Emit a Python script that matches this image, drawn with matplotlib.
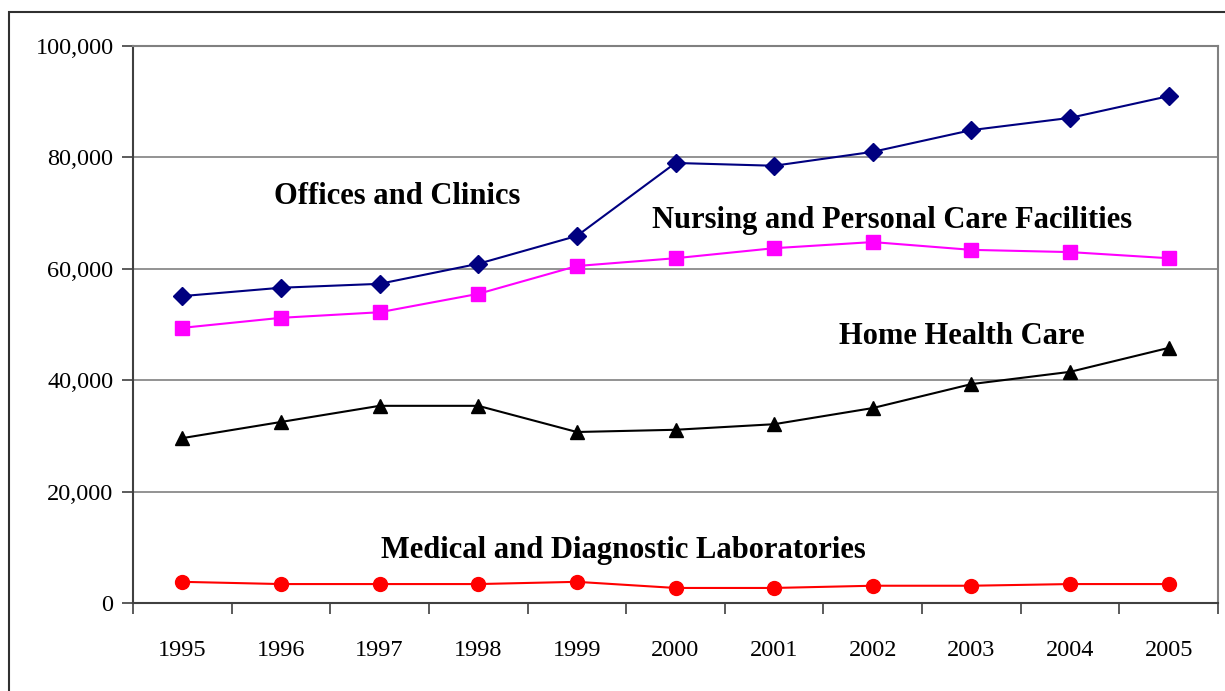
import matplotlib
matplotlib.use("Agg")
import matplotlib.pyplot as plt
from matplotlib.patches import Rectangle
from matplotlib.ticker import FuncFormatter, FixedLocator, NullFormatter

years = ["1995", "1996", "1997", "1998", "1999", "2000", "2001", "2002", "2003", "2004", "2005"]
offices = [55100, 56600, 57300, 60900, 65900, 79000, 78500, 81000, 84900, 87100, 91000]
nursing = [49400, 51200, 52200, 55500, 60500, 61900, 63700, 64800, 63400, 63000, 61900]
home = [29600, 32500, 35400, 35400, 30700, 31100, 32100, 35000, 39300, 41500, 45800]
labs = [3800, 3400, 3400, 3400, 3800, 2700, 2700, 3100, 3100, 3400, 3400]

plt.rcParams['font.family'] = ['Liberation Serif', 'DejaVu Serif']

fig = plt.figure(figsize=(12.25, 6.91), dpi=100)
ax = fig.add_axes([133/1225, 1-603/691, (1218-133)/1225, (603-46)/691])

x = list(range(len(years)))
ax.plot(x, offices, color='#000080', marker='D', markersize=9.5, lw=1.5, zorder=3)
ax.plot(x, nursing, color='#FF00FF', marker='s', markersize=10, lw=1.5, zorder=3)
ax.plot(x, home, color='black', marker='^', markersize=10, lw=1.5, zorder=3)
ax.plot(x, labs, color='#FF0000', marker='o', markersize=10, lw=1.5, zorder=3)

ax.set_xlim(-0.5, len(years) - 0.5)
ax.set_ylim(0, 100000)
ax.set_yticks(range(0, 100001, 20000))
ax.yaxis.set_major_formatter(FuncFormatter(lambda v, p: f"{int(v):,}"))
ax.yaxis.grid(True, color='#808080', lw=1.2)
ax.set_axisbelow(True)

ax.xaxis.set_major_locator(FixedLocator([i - 0.5 for i in range(len(years) + 1)]))
ax.xaxis.set_major_formatter(NullFormatter())
ax.xaxis.set_minor_locator(FixedLocator(x))
ax.set_xticklabels(years, minor=True)
ax.tick_params(axis='x', which='minor', length=0, pad=27, labelsize=17.5)
ax.tick_params(axis='x', which='major', length=8, width=1.2, color='#404040', direction='out')
ax.tick_params(axis='y', length=8, width=1.2, color='#404040', direction='out', labelsize=17.5, pad=6)

for s in ['top', 'right']:
    ax.spines[s].set_color('#808080')
    ax.spines[s].set_linewidth(1.5)
for s in ['left', 'bottom']:
    ax.spines[s].set_color('#404040')
    ax.spines[s].set_linewidth(1.5)

tkw = dict(fontsize=22, fontweight='bold', va='center', ha='left')
ax.text(0.93, 72900, "Offices and Clinics", **tkw)
ax.text(4.76, 68700, "Nursing and Personal Care Facilities", **tkw)
ax.text(6.66, 47800, "Home Health Care", **tkw)
ax.text(2.01, 9500, "Medical and Diagnostic Laboratories", **tkw)

fig.patches.append(Rectangle((9/1225, -0.2), 2, 1 - 12/691 + 0.2, transform=fig.transFigure,
                             fill=False, edgecolor='#303030', lw=1.5))

fig.savefig("out.png", dpi=100)
